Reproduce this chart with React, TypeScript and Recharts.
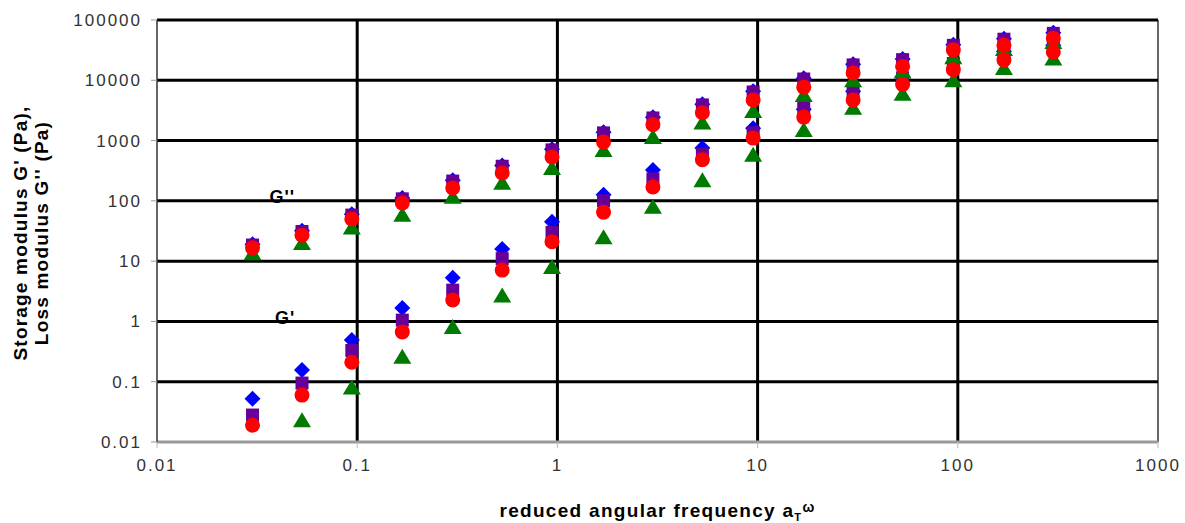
import { ScatterChart, Scatter, XAxis, YAxis, ReferenceLine, ReferenceDot } from 'recharts'

// reduced angular frequency a_T * omega (shared by all series)
const freq = [0.03, 0.053, 0.094, 0.168, 0.3, 0.53, 0.94, 1.7, 3.0, 5.3, 9.5, 17, 30, 53, 95, 170, 300]

// storage modulus G' (Pa)
const blueG1 = [0.052, 0.157, 0.49, 1.67, 5.3, 15.9, 45, 126, 324, 750, 1600, 3300, 6600, 11500, 20000, 30000, 38000]
const purpleG1 = [0.028, 0.095, 0.33, 1.05, 3.3, 11, 30, 100, 230, 600, 1350, 3500, 6400, 11000, 19000, 28000, 36000]
const redG1 = [0.019, 0.06, 0.21, 0.67, 2.27, 7.1, 21, 65, 170, 480, 1100, 2450, 4700, 8500, 15000, 21800, 29500]
const greenG1 = [null, 0.023, 0.08, 0.26, 0.81, 2.7, 8, 25, 80, 220, 580, 1500, 3500, 6000, 10000, 16000, 23000]

// loss modulus G'' (Pa)
const blueG2 = [19, 32, 60, 111, 220, 385, 720, 1380, 2440, 4000, 6600, 10800, 18500, 22600, 39000, 49000, 61500]
const purpleG2 = [18.5, 31, 58, 108, 213, 375, 700, 1340, 2370, 3900, 6400, 10500, 18000, 22000, 38000, 48000, 60000]
const redG2 = [16.6, 27, 50, 92, 163, 290, 535, 950, 1830, 2900, 4700, 7700, 13200, 17000, 32000, 38000, 50000]
const greenG2 = [13.5, 20, 36, 59, 117, 200, 350, 700, 1150, 2000, 3100, 5700, 10000, 14000, 24000, 33000, 43000]

const xTicks = [0.01, 0.1, 1, 10, 100, 1000]
const yTicks = [0.01, 0.1, 1, 10, 100, 1000, 10000, 100000]

const toPoints = (g1: (number | null)[], g2: (number | null)[]) => {
  const pts: { x: number; y: number }[] = []
  freq.forEach((f, i) => {
    if (g1[i] != null) pts.push({ x: f, y: g1[i] as number })
    if (g2[i] != null) pts.push({ x: f, y: g2[i] as number })
  })
  return pts
}

const blueData = toPoints(blueG1, blueG2)
const purpleData = toPoints(purpleG1, purpleG2)
const redData = toPoints(redG1, redG2)
const greenData = toPoints(greenG1, greenG2)

const font = '"Liberation Sans", Arial, sans-serif'

const Diamond = (p: any) => (
  <polygon points={`${p.cx},${p.cy - 8} ${p.cx + 8},${p.cy} ${p.cx},${p.cy + 8} ${p.cx - 8},${p.cy}`} fill="#0000ff" />
)
const Square = (p: any) => <rect x={p.cx - 6.5} y={p.cy - 6.5} width={13} height={13} fill="#660099" />
const Circle = (p: any) => <circle cx={p.cx} cy={p.cy} r={7.5} fill="#ff0000" />
const Triangle = (p: any) => (
  <polygon points={`${p.cx},${p.cy - 8} ${p.cx + 9},${p.cy + 7} ${p.cx - 9},${p.cy + 7}`} fill="#007a00" />
)

const YTitle = (props: any) => {
  const vb = props.viewBox
  const cy = vb.y + vb.height / 2 + 2
  return (
    <g fontFamily={font} fontWeight="bold" fontSize={19} fill="#000" letterSpacing={1.2}>
      <text x={20} y={cy} textAnchor="middle" dominantBaseline="central" transform={`rotate(-90 20 ${cy})`}>
        Storage modulus G' (Pa),
      </text>
      <text x={41} y={cy} textAnchor="middle" dominantBaseline="central" transform={`rotate(-90 41 ${cy})`}>
        Loss modulus G'' (Pa)
      </text>
    </g>
  )
}

const XTitle = (props: any) => {
  const vb = props.viewBox
  const cx = vb.x + vb.width / 2
  return (
    <text
      x={cx}
      y={vb.y + 75}
      textAnchor="middle"
      fontFamily={font}
      fontWeight="bold"
      fontSize={19}
      letterSpacing={1.3}
      fill="#000"
    >
      reduced angular frequency a
      <tspan fontSize={11} dy={4}>T</tspan>
      <tspan fontSize={14} dy={-9}>ω</tspan>
    </text>
  )
}

const tickStyle = { fill: '#333', fontSize: 17, fontFamily: font, letterSpacing: 2 }

export default function App() {
  return (
    <div style={{ position: 'absolute', left: 0, top: 0, width: 1185, height: 523, background: '#fff' }}>
      <ScatterChart width={1185} height={523} margin={{ top: 20, right: 27, bottom: 0, left: 0 }}>
        <XAxis
          dataKey="x"
          type="number"
          scale="log"
          domain={[0.01, 1000]}
          ticks={xTicks}
          allowDataOverflow
          height={81}
          axisLine={{ stroke: '#999', strokeWidth: 3 }}
          tickLine={{ stroke: '#bbb' }}
          tickSize={6}
          tickMargin={11}
          tick={tickStyle}
          label={{ content: XTitle }}
        />
        <YAxis
          dataKey="y"
          type="number"
          scale="log"
          domain={[0.01, 100000]}
          ticks={yTicks}
          allowDataOverflow
          width={157}
          axisLine={{ stroke: '#333', strokeWidth: 1.5 }}
          tickLine={{ stroke: '#999' }}
          tickSize={6}
          tickMargin={9}
          tick={tickStyle}
          label={{ content: YTitle }}
        />
        {xTicks.slice(1, -1).map((v) => (
          <ReferenceLine key={'vx' + v} x={v} stroke="#000" strokeWidth={3} />
        ))}
        <ReferenceLine x={1000} stroke="#666" strokeWidth={2} />
        {yTicks.slice(1).map((v) => (
          <ReferenceLine key={'hy' + v} y={v} stroke="#000" strokeWidth={3} />
        ))}
        <ReferenceDot
          x={0.0422}
          y={116}
          r={0}
          label={{ value: "G''", fill: '#000', fontSize: 18, fontWeight: 'bold', fontFamily: font, letterSpacing: 1 }}
        />
        <ReferenceDot
          x={0.0437}
          y={1.14}
          r={0}
          label={{ value: "G'", fill: '#000', fontSize: 18, fontWeight: 'bold', fontFamily: font, letterSpacing: 1 }}
        />
        <Scatter data={blueData} shape={Diamond} isAnimationActive={false} />
        <Scatter data={purpleData} shape={Square} isAnimationActive={false} />
        <Scatter data={greenData} shape={Triangle} isAnimationActive={false} />
        <Scatter data={redData} shape={Circle} isAnimationActive={false} />
      </ScatterChart>
    </div>
  )
}
